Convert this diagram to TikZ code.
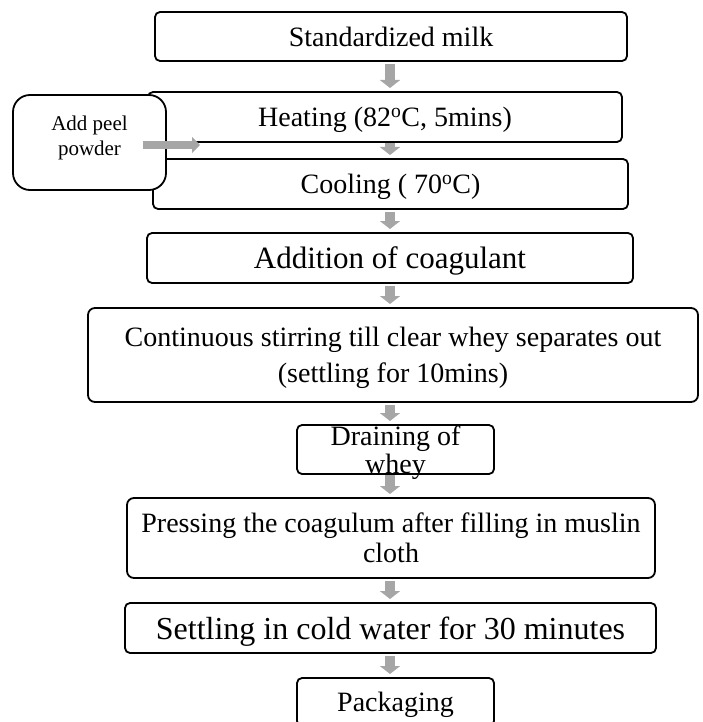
\documentclass[tikz,border=0pt]{standalone}
\usepackage{fontspec}
\setmainfont{Liberation Serif}
\usetikzlibrary{arrows.meta}
\definecolor{arrowgray}{HTML}{A6A6A6}
\begin{document}
\begin{tikzpicture}[x=1pt,y=-1pt,
  box/.style={draw, line width=1.8pt, rounded corners=5pt, fill=white,
    inner sep=0pt, outer sep=0pt, align=center, text depth=0pt,
    font=\fontsize{28}{36}\selectfont},
  flow/.style={draw=arrowgray, line width=10pt,
    -{Triangle[width=20pt,length=8pt]}, shorten <=3pt, shorten >=4pt},
  harrow/.style={draw=arrowgray, line width=8pt,
    -{Triangle[width=16pt,length=8pt]}}]
\useasboundingbox (0,0) rectangle (702,722);
\clip (0,0) rectangle (702,722);
\coordinate (ax) at (390,0);

\node[box, minimum width=472pt, minimum height=49pt] (milk) at (391,36.5) {Standardized milk};
\node[box, minimum width=474pt, minimum height=50pt] (heat) at (385,117) {Heating (82\textsuperscript{o}C, 5mins)};
\node[box, minimum width=475pt, minimum height=50pt] (cool) at (390.5,184) {Cooling ( 70\textsuperscript{o}C)};
\node[box, minimum width=153pt, minimum height=95pt, rounded corners=17pt,
  font=\fontsize{21}{25}\selectfont, text depth=14pt] (peel) at (89.5,142.5) {Add peel\\powder};
\node[box, minimum width=486pt, minimum height=50pt, font=\fontsize{31}{36}\selectfont] (coag) at (390,258) {Addition of coagulant};
\node[box, minimum width=610pt, minimum height=94pt, rounded corners=7pt] (stir) at (393,355) {Continuous stirring till clear whey separates out\\(settling for 10mins)};
\node[box, minimum width=197pt, minimum height=49pt, font=\fontsize{28}{28}\selectfont] (drain) at (395.5,449.5) {Draining of\\whey};
\node[box, minimum width=528pt, minimum height=80pt, rounded corners=7pt, font=\fontsize{28}{30}\selectfont] (press) at (391,538) {Pressing the coagulum after filling in muslin\\cloth};
\node[box, minimum width=531pt, minimum height=50pt, font=\fontsize{32}{36}\selectfont] (settle) at (390.5,628) {Settling in cold water for 30 minutes};
\node[box, minimum width=197pt, minimum height=48pt] (pack) at (395.5,702) {Packaging};

\draw[flow] (milk.south -| ax) -- (heat.north -| ax);
\draw[flow, shorten <=1pt] (heat.south -| ax) -- (cool.north -| ax);
\draw[flow] (cool.south -| ax) -- (coag.north -| ax);
\draw[flow] (coag.south -| ax) -- (stir.north -| ax);
\draw[flow] (stir.south -| ax) -- (drain.north -| ax);
\draw[flow, shorten <=1pt] (drain.south -| ax) -- (press.north -| ax);
\draw[flow] (press.south -| ax) -- (settle.north -| ax);
\draw[flow] (settle.south -| ax) -- (pack.north -| ax);
\draw[harrow] ([shift={(-23,2.5)}]peel.east) -- ++(57,0);
\end{tikzpicture}
\end{document}
